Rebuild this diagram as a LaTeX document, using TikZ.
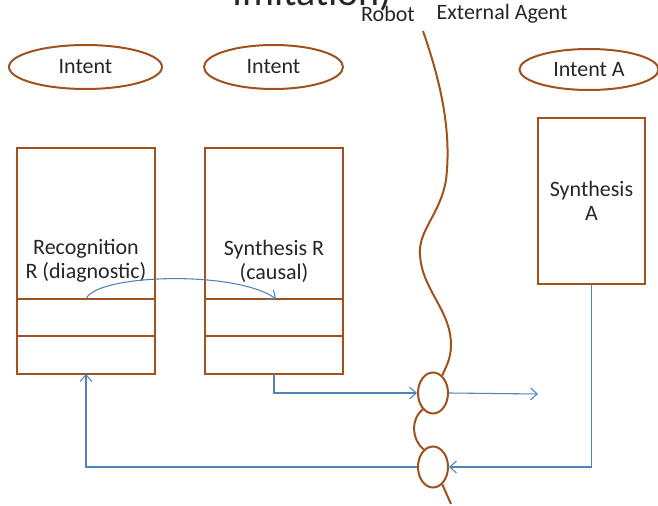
\documentclass[tikz,border=0pt]{standalone}
\usepackage{fontspec}
\setmainfont{Carlito}
\usetikzlibrary{shapes.geometric, arrows.meta, positioning, calc}
\definecolor{ropebrown}{RGB}{160,82,30}
\definecolor{flowblue}{RGB}{79,129,189}

\begin{document}
\begin{tikzpicture}[x=0.75pt, y=-0.75pt,
    box/.style={rectangle, draw=ropebrown, line width=1.5pt, minimum width=103.5pt, minimum height=169.5pt, align=center, text=black!85, font=\fontsize{16.5pt}{18pt}\selectfont, outer sep=0pt},
    intent/.style={ellipse, draw=ropebrown, line width=1.5pt, minimum height=33pt, inner sep=0pt, text=black!85, font=\fontsize{16.5pt}{18pt}\selectfont},
    link/.style={ellipse, draw=ropebrown, line width=1.5pt, minimum width=22.5pt, minimum height=30.75pt, inner sep=0pt},
    rope/.style={draw=ropebrown, line width=1.5pt},
    flow/.style={draw=flowblue, line width=0.8pt, ->, >={Straight Barb[length=5pt,width=9pt]}},
    lbl/.style={text=black!85, font=\fontsize{16.5pt}{18pt}\selectfont}
  ]
    \clip (0,0) rectangle (658,506);

    % title, cut off at the top
    \node (title) [anchor=base, text=black!85, font=\fontsize{30pt}{36pt}\selectfont] at (312,6) {Imitation)};
    \node (robotLbl) [lbl] at (388,14) {Robot};
    \node (agentLbl) [lbl] at (502,14) {External Agent};

    \node (intentR1) [intent, minimum width=114.75pt] at (85.5,67) {Intent};
    \node (intentR2) [intent, minimum width=104.25pt] at (273.5,67) {Intent};
    \node (intentA) [intent, minimum width=104.25pt, minimum height=30.75pt] at (589,69.5) {Intent A};

    \node (recog) [box] at (86,261) {Recognition\\R (diagnostic)};
    \node (synthR) [box] at (274,261) {Synthesis R\\(causal)};
    \node (synthA) [box, minimum width=80.25pt, minimum height=124.5pt] at (591.5,201) {Synthesis\\A};

    \foreach \b in {recog, synthR} {
      \draw[rope] ($(\b.south west)+(0,-38)$) -- ($(\b.south east)+(0,-38)$);
      \draw[rope] ($(\b.south west)+(0,-75)$) -- ($(\b.south east)+(0,-75)$);
    }

    \node (link1) [link] at (433,393) {};
    \node (link2) [link] at (433,467) {};

    % the border between robot and agent
    \coordinate (ropeTop) at (423,31);
    \coordinate (ropeEnd) at (451,504);
    \draw[rope] (ropeTop) .. controls (440,80) and (452,130) .. (446,180)
      .. controls (440,215) and (418,230) .. (420,255)
      .. controls (422,290) and (451,310) .. (451,345)
      .. controls (451,360) and (445,368) .. (link1.62);
    \draw[rope] (link1.238) .. controls (410,420) and (412,440) .. (link2.118);
    \draw[rope] (link2.-62) -- (ropeEnd);

    \coordinate (recogDiv) at ($(recog.south)+(0,-75)$);
    \coordinate (synthDiv) at ($(synthR.south)+(2,-75)$);
    \coordinate (outA) at (538,394);

    \draw[flow] (recogDiv) .. controls (96,274) and (236,270) .. (synthDiv);
    \draw[flow] (synthR.south) |- (link1.west);
    \draw[flow] (link1.east) -- (outA);
    \draw[flow] (synthA.south) |- (link2.east);
    \draw[flow] (link2.west) -| (recog.south);

  \end{tikzpicture}
\end{document}
